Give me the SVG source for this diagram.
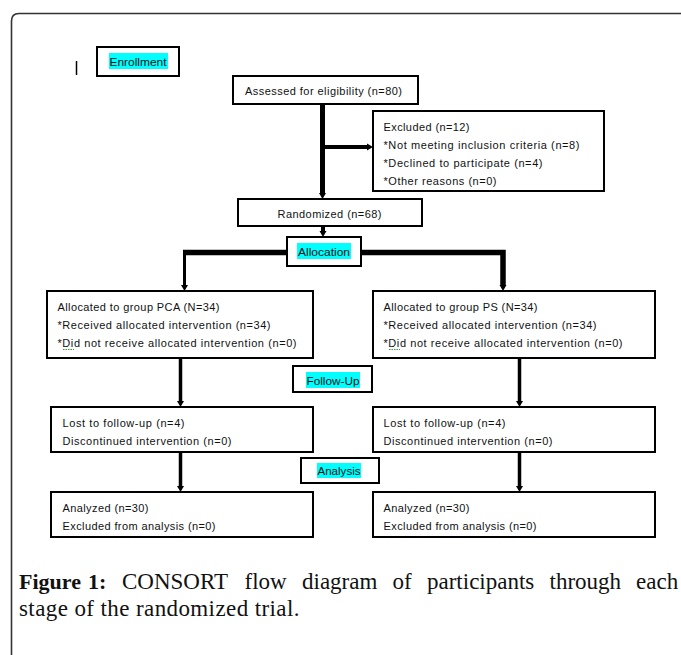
<svg xmlns="http://www.w3.org/2000/svg" width="681" height="655" viewBox="0 0 681 655">
<style>
.box{fill:#fff;stroke:#000;stroke-width:2}
.t{font-family:"Liberation Sans",Arial,sans-serif;font-size:11px;fill:#111}
.hl{fill:#00ffff}
.ln{fill:none;stroke:#000}
.cap{font-family:"Liberation Serif","Times New Roman",serif;font-size:23px;fill:#111}
</style>
<defs>
<marker id="ah" markerUnits="userSpaceOnUse" markerWidth="8" markerHeight="8" refX="0" refY="4" orient="auto">
<path d="M0,0.5 L6,4 L0,7.5 z" fill="#000"/>
</marker>
</defs>
<rect width="681" height="655" fill="#fff"/>
<path d="M11.5,700 L11.5,21 Q11.5,13.5 19,13.5 L700,13.5" fill="none" stroke="#333" stroke-width="1.6"/>
<line x1="76.5" y1="61" x2="76.5" y2="75" stroke="#000" stroke-width="1.5"/>

<g id="connectors">
<line class="ln" x1="322.5" y1="104" x2="322.5" y2="193" stroke-width="5" marker-end="url(#ah)"/>
<line class="ln" x1="322.5" y1="147" x2="367" y2="147" stroke-width="4" marker-end="url(#ah)"/>
<line class="ln" x1="323" y1="226" x2="323" y2="231" stroke-width="4" marker-end="url(#ah)"/>
<line class="ln" x1="287" y1="252.5" x2="183" y2="252.5" stroke-width="5.5"/>
<line class="ln" x1="184.5" y1="250" x2="184.5" y2="285" stroke-width="3" marker-end="url(#ah)"/>
<path class="ln" d="M361,252.5 L503,252.5 L503,285" stroke-width="5.5" stroke-linejoin="miter" marker-end="url(#ah)"/>
<line class="ln" x1="180.5" y1="358" x2="180.5" y2="401" stroke-width="3.5" marker-end="url(#ah)"/>
<line class="ln" x1="519.5" y1="358" x2="519.5" y2="401" stroke-width="3.5" marker-end="url(#ah)"/>
<line class="ln" x1="180.5" y1="452" x2="180.5" y2="486" stroke-width="3.5" marker-end="url(#ah)"/>
<line class="ln" x1="519.5" y1="452" x2="519.5" y2="486" stroke-width="3.5" marker-end="url(#ah)"/>
</g>

<g id="enrollment">
<rect class="box" x="97" y="47" width="82" height="29"/>
<rect class="hl" x="109" y="53" width="59" height="16"/>
<text class="t" x="109.5" y="65.5" textLength="57" lengthAdjust="spacingAndGlyphs">Enrollment</text>
</g>

<g id="assessed">
<rect class="box" x="233" y="76" width="185" height="28"/>
<text class="t" x="245" y="95" textLength="157" lengthAdjust="spacing">Assessed for eligibility (n=80)</text>
</g>

<g id="excluded">
<rect class="box" x="373" y="111" width="231" height="80"/>
<text class="t" x="383.5" y="130.5" textLength="86" lengthAdjust="spacing">Excluded (n=12)</text>
<text class="t" x="383.5" y="148.5" textLength="196" lengthAdjust="spacing">*Not meeting inclusion criteria (n=8)</text>
<text class="t" x="383.5" y="166.5" textLength="159" lengthAdjust="spacing">*Declined to participate (n=4)</text>
<text class="t" x="383.5" y="184.5" textLength="113" lengthAdjust="spacing">*Other reasons (n=0)</text>
</g>

<g id="randomized">
<rect class="box" x="238" y="199" width="184" height="27"/>
<text class="t" x="277.5" y="217.5" textLength="104" lengthAdjust="spacing">Randomized (n=68)</text>
</g>

<g id="allocation">
<rect class="box" x="287" y="237" width="74" height="29"/>
<rect class="hl" x="297" y="243" width="54" height="16"/>
<text class="t" x="298" y="255.5" textLength="52" lengthAdjust="spacingAndGlyphs">Allocation</text>
</g>

<g id="alloc-pca">
<rect class="box" x="47" y="291" width="266" height="67"/>
<text class="t" x="57.5" y="310.5" textLength="162" lengthAdjust="spacing">Allocated to group PCA (N=34)</text>
<text class="t" x="57.5" y="328.5" textLength="213" lengthAdjust="spacing">*Received allocated intervention (n=34)</text>
<text class="t" x="57.5" y="346.5" textLength="239" lengthAdjust="spacing">*Did not receive allocated intervention (n=0)</text>
<path d="M63,349.5 h11" stroke="#3a9a3a" stroke-width="1" stroke-dasharray="1.5,1"/>
</g>

<g id="alloc-ps">
<rect class="box" x="373" y="291" width="282" height="67"/>
<text class="t" x="383.5" y="310.5" textLength="154" lengthAdjust="spacing">Allocated to group PS (N=34)</text>
<text class="t" x="383.5" y="328.5" textLength="213" lengthAdjust="spacing">*Received allocated intervention (n=34)</text>
<text class="t" x="383.5" y="346.5" textLength="239" lengthAdjust="spacing">*Did not receive allocated intervention (n=0)</text>
<path d="M389,349.5 h11" stroke="#3a9a3a" stroke-width="1" stroke-dasharray="1.5,1"/>
</g>

<g id="followup">
<rect class="box" x="293" y="366" width="79" height="26"/>
<rect class="hl" x="306" y="372" width="54" height="16"/>
<text class="t" x="306.5" y="384.5" textLength="53" lengthAdjust="spacingAndGlyphs">Follow-Up</text>
</g>

<g id="lost-pca">
<rect class="box" x="51" y="407" width="262" height="45"/>
<text class="t" x="62.5" y="426.5" textLength="122" lengthAdjust="spacing">Lost to follow-up (n=4)</text>
<text class="t" x="62.5" y="444.5" textLength="169" lengthAdjust="spacing">Discontinued intervention (n=0)</text>
</g>

<g id="lost-ps">
<rect class="box" x="373" y="407" width="282" height="45"/>
<text class="t" x="383.5" y="426.5" textLength="122" lengthAdjust="spacing">Lost to follow-up (n=4)</text>
<text class="t" x="383.5" y="444.5" textLength="169" lengthAdjust="spacing">Discontinued intervention (n=0)</text>
</g>

<g id="analysis">
<rect class="box" x="301" y="458" width="78" height="25"/>
<rect class="hl" x="317" y="463" width="44" height="15"/>
<text class="t" x="317.5" y="475" textLength="43" lengthAdjust="spacingAndGlyphs">Analysis</text>
</g>

<g id="analyzed-pca">
<rect class="box" x="51" y="492" width="262" height="45"/>
<text class="t" x="62.5" y="511.5" textLength="86" lengthAdjust="spacing">Analyzed (n=30)</text>
<text class="t" x="62.5" y="529.5" textLength="153" lengthAdjust="spacing">Excluded from analysis (n=0)</text>
</g>

<g id="analyzed-ps">
<rect class="box" x="373" y="492" width="282" height="45"/>
<text class="t" x="383.5" y="511.5" textLength="86" lengthAdjust="spacing">Analyzed (n=30)</text>
<text class="t" x="383.5" y="529.5" textLength="153" lengthAdjust="spacing">Excluded from analysis (n=0)</text>
</g>

<g id="caption">
<text class="cap" y="589"><tspan x="19" font-weight="bold" font-size="22">Figure</tspan><tspan x="88" font-weight="bold" font-size="22">1:</tspan><tspan x="122">CONSORT</tspan><tspan x="244.5">flow</tspan><tspan x="302">diagram</tspan><tspan x="392.5">of</tspan><tspan x="427">participants</tspan><tspan x="549.5">through</tspan><tspan x="636">each</tspan></text>
<text class="cap" x="19" y="616" letter-spacing="0.4">stage of the randomized trial.</text>
</g>
</svg>
